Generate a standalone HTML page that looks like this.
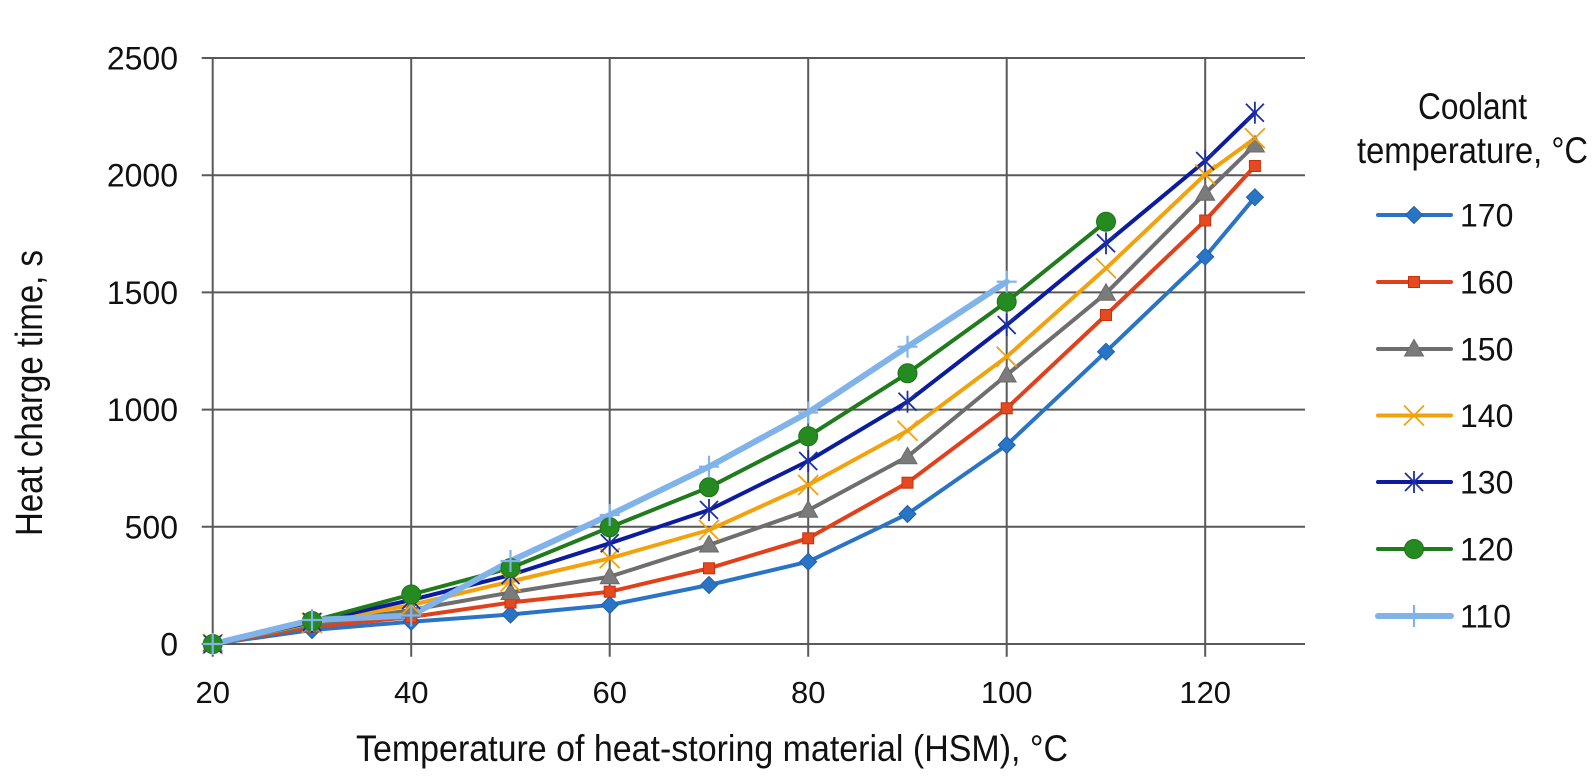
<!DOCTYPE html>
<html><head><meta charset="utf-8"><style>
html,body{margin:0;padding:0;background:#fff;}
svg{display:block;}
</style></head><body>
<svg width="1596" height="777" viewBox="0 0 1596 777" xmlns="http://www.w3.org/2000/svg">
<defs>
<g id="dia"><polygon points="0,-8.5 8.5,0 0,8.5 -8.5,0" fill="#2a74c6" stroke="#1d60ad" stroke-width="1"/></g>
<g id="sq"><rect x="-5.5" y="-5.5" width="11" height="11" fill="#e5491f" stroke="#c4320c" stroke-width="1"/></g>
<g id="tri"><polygon points="0,-9.5 9.5,7 -9.5,7" fill="#7b7b7b" stroke="#6a6a6a" stroke-width="1"/></g>
<g id="xm" stroke="#f2a20c" stroke-width="1.8"><line x1="-10" y1="-10" x2="10" y2="10"/><line x1="-10" y1="10" x2="10" y2="-10"/></g>
<g id="st" stroke="#1a2eaa" stroke-width="1.8"><line x1="-9" y1="-9" x2="9" y2="9"/><line x1="-9" y1="9" x2="9" y2="-9"/><line x1="0" y1="-11" x2="0" y2="11"/></g>
<g id="ci"><circle r="9.5" fill="#258a1f" stroke="#1e741a" stroke-width="1"/></g>
<g id="pl" stroke="#7fb3ea" stroke-width="2.2"><line x1="0" y1="-11" x2="0" y2="11"/><line x1="-10" y1="0" x2="10" y2="0"/></g>
</defs>

<!-- grid -->
<g stroke="#595959" stroke-width="2" fill="none">
<line x1="201.7" y1="58" x2="1305" y2="58"/>
<line x1="201.7" y1="175.2" x2="1305" y2="175.2"/>
<line x1="201.7" y1="292.4" x2="1305" y2="292.4"/>
<line x1="201.7" y1="409.6" x2="1305" y2="409.6"/>
<line x1="201.7" y1="526.8" x2="1305" y2="526.8"/>
<line x1="201.7" y1="644" x2="1305" y2="644"/>
<line x1="212.7" y1="58" x2="212.7" y2="656.7"/>
<line x1="411.2" y1="58" x2="411.2" y2="656.7"/>
<line x1="609.7" y1="58" x2="609.7" y2="656.7"/>
<line x1="808.2" y1="58" x2="808.2" y2="656.7"/>
<line x1="1006.7" y1="58" x2="1006.7" y2="656.7"/>
<line x1="1205.2" y1="58" x2="1205.2" y2="656.7"/>
</g>

<!-- y tick labels -->
<g font-family="Liberation Sans, sans-serif" font-size="32" fill="#111" text-anchor="end">
<text x="178" y="69.5">2500</text>
<text x="178" y="186.7">2000</text>
<text x="178" y="303.9">1500</text>
<text x="178" y="421.1">1000</text>
<text x="178" y="538.3">500</text>
<text x="178" y="655.5">0</text>
</g>
<!-- x tick labels -->
<g font-family="Liberation Sans, sans-serif" font-size="31" fill="#111" text-anchor="middle">
<text x="212.7" y="703">20</text>
<text x="411.2" y="703">40</text>
<text x="609.7" y="703">60</text>
<text x="808.2" y="703">80</text>
<text x="1006.7" y="703">100</text>
<text x="1205.2" y="703">120</text>
</g>

<!-- axis titles -->
<text x="356" y="761" font-family="Liberation Sans, sans-serif" font-size="37" fill="#111" textLength="712" lengthAdjust="spacingAndGlyphs">Temperature of heat-storing material (HSM), °C</text>
<text transform="translate(42,536) rotate(-90)" x="0" y="0" font-family="Liberation Sans, sans-serif" font-size="38" fill="#111" textLength="286" lengthAdjust="spacingAndGlyphs">Heat charge time, s</text>

<!-- series lines -->
<g fill="none" stroke-linejoin="round" stroke-linecap="round">
<polyline stroke="#2a74c6" stroke-width="4" points="212.7,644 312,630 411.2,621.7 510.5,614.5 609.7,605 709,585 808.2,561.7 907.5,514 1006.7,445 1106,351.7 1205.2,256.7 1254.9,197.3"/>
<polyline stroke="#e0401a" stroke-width="4" points="212.7,644 312,627 411.2,617 510.5,602.5 609.7,591.7 709,568.3 808.2,538.3 907.5,482.7 1006.7,408.3 1106,315 1205.2,220.5 1254.9,166"/>
<polyline stroke="#6e6e6e" stroke-width="4" points="212.7,644 312,625 411.2,610 510.5,592.5 609.7,576.7 709,545 808.2,510.3 907.5,456.7 1006.7,375 1106,293.3 1205.2,193.3 1254.9,145"/>
<polyline stroke="#f2a20c" stroke-width="4" points="212.7,644 312,623 411.2,605 510.5,581.5 609.7,558.3 709,530 808.2,485 907.5,430.7 1006.7,356.7 1106,268.3 1205.2,174.5 1254.9,138.3"/>
<polyline stroke="#0b1c9e" stroke-width="4" points="212.7,644 312,622 411.2,600 510.5,575 609.7,543.3 709,510 808.2,461 907.5,401.7 1006.7,325 1106,243.3 1205.2,161 1254.9,112.7"/>
<polyline stroke="#1f7b1c" stroke-width="4" points="212.7,644 312,621 411.2,594.5 510.5,568 609.7,527.3 709,487.3 808.2,436.3 907.5,373.3 1006.7,301.7 1106,221.7"/>
<polyline stroke="#7fb3ea" stroke-width="6" points="212.7,644 312,620 411.2,615.5 510.5,561 609.7,515 709,466.7 808.2,412.5 907.5,346.7 1006.7,281.7"/>
</g>

<!-- markers -->
<g>
<use href="#dia" x="212.7" y="644"/><use href="#dia" x="312" y="630"/><use href="#dia" x="411.2" y="621.7"/><use href="#dia" x="510.5" y="614.5"/><use href="#dia" x="609.7" y="605"/><use href="#dia" x="709" y="585"/><use href="#dia" x="808.2" y="561.7"/><use href="#dia" x="907.5" y="514"/><use href="#dia" x="1006.7" y="445"/><use href="#dia" x="1106" y="351.7"/><use href="#dia" x="1205.2" y="256.7"/><use href="#dia" x="1254.9" y="197.3"/>
<use href="#sq" x="212.7" y="644"/><use href="#sq" x="312" y="627"/><use href="#sq" x="411.2" y="617"/><use href="#sq" x="510.5" y="602.5"/><use href="#sq" x="609.7" y="591.7"/><use href="#sq" x="709" y="568.3"/><use href="#sq" x="808.2" y="538.3"/><use href="#sq" x="907.5" y="482.7"/><use href="#sq" x="1006.7" y="408.3"/><use href="#sq" x="1106" y="315"/><use href="#sq" x="1205.2" y="220.5"/><use href="#sq" x="1254.9" y="166"/>
<use href="#tri" x="212.7" y="644"/><use href="#tri" x="312" y="625"/><use href="#tri" x="411.2" y="610"/><use href="#tri" x="510.5" y="592.5"/><use href="#tri" x="609.7" y="576.7"/><use href="#tri" x="709" y="545"/><use href="#tri" x="808.2" y="510.3"/><use href="#tri" x="907.5" y="456.7"/><use href="#tri" x="1006.7" y="375"/><use href="#tri" x="1106" y="293.3"/><use href="#tri" x="1205.2" y="193.3"/><use href="#tri" x="1254.9" y="145"/>
<use href="#xm" x="212.7" y="644"/><use href="#xm" x="312" y="623"/><use href="#xm" x="411.2" y="605"/><use href="#xm" x="510.5" y="581.5"/><use href="#xm" x="609.7" y="558.3"/><use href="#xm" x="709" y="530"/><use href="#xm" x="808.2" y="485"/><use href="#xm" x="907.5" y="430.7"/><use href="#xm" x="1006.7" y="356.7"/><use href="#xm" x="1106" y="268.3"/><use href="#xm" x="1205.2" y="174.5"/><use href="#xm" x="1254.9" y="138.3"/>
<use href="#st" x="212.7" y="644"/><use href="#st" x="312" y="622"/><use href="#st" x="411.2" y="600"/><use href="#st" x="510.5" y="575"/><use href="#st" x="609.7" y="543.3"/><use href="#st" x="709" y="510"/><use href="#st" x="808.2" y="461"/><use href="#st" x="907.5" y="401.7"/><use href="#st" x="1006.7" y="325"/><use href="#st" x="1106" y="243.3"/><use href="#st" x="1205.2" y="161"/><use href="#st" x="1254.9" y="112.7"/>
<use href="#ci" x="212.7" y="644"/><use href="#ci" x="312" y="621"/><use href="#ci" x="411.2" y="594.5"/><use href="#ci" x="510.5" y="568"/><use href="#ci" x="609.7" y="527.3"/><use href="#ci" x="709" y="487.3"/><use href="#ci" x="808.2" y="436.3"/><use href="#ci" x="907.5" y="373.3"/><use href="#ci" x="1006.7" y="301.7"/><use href="#ci" x="1106" y="221.7"/>
<use href="#pl" x="212.7" y="644"/><use href="#pl" x="312" y="620"/><use href="#pl" x="411.2" y="615.5"/><use href="#pl" x="510.5" y="561"/><use href="#pl" x="609.7" y="515"/><use href="#pl" x="709" y="466.7"/><use href="#pl" x="808.2" y="412.5"/><use href="#pl" x="907.5" y="346.7"/><use href="#pl" x="1006.7" y="281.7"/>
</g>

<!-- legend -->
<g font-family="Liberation Sans, sans-serif" fill="#111">
<text x="1472.5" y="119" font-size="37" text-anchor="middle" textLength="109" lengthAdjust="spacingAndGlyphs">Coolant</text>
<text x="1357" y="163" font-size="37" textLength="231" lengthAdjust="spacingAndGlyphs">temperature, °C</text>
</g>
<g stroke-linecap="round">
<line x1="1378" y1="215" x2="1451" y2="215" stroke="#2a74c6" stroke-width="4"/>
<line x1="1378" y1="282" x2="1451" y2="282" stroke="#e0401a" stroke-width="4"/>
<line x1="1378" y1="349" x2="1451" y2="349" stroke="#6e6e6e" stroke-width="4"/>
<line x1="1378" y1="415.5" x2="1451" y2="415.5" stroke="#f2a20c" stroke-width="4"/>
<line x1="1378" y1="482" x2="1451" y2="482" stroke="#0b1c9e" stroke-width="4"/>
<line x1="1378" y1="549" x2="1451" y2="549" stroke="#1f7b1c" stroke-width="4"/>
<line x1="1378" y1="616" x2="1451" y2="616" stroke="#7fb3ea" stroke-width="6"/>
</g>
<use href="#dia" x="1414" y="215"/>
<use href="#sq" x="1414" y="282"/>
<use href="#tri" x="1414" y="349"/>
<use href="#xm" x="1414" y="415.5"/>
<use href="#st" x="1414" y="482"/>
<use href="#ci" x="1414" y="549"/>
<use href="#pl" x="1414" y="616"/>
<g font-family="Liberation Sans, sans-serif" font-size="32" fill="#111">
<text x="1460" y="226.5">170</text>
<text x="1460" y="293.5">160</text>
<text x="1460" y="360.5">150</text>
<text x="1460" y="427">140</text>
<text x="1460" y="493.5">130</text>
<text x="1460" y="560.5">120</text>
<text x="1460" y="627.5">110</text>
</g>
</svg>
</body></html>
